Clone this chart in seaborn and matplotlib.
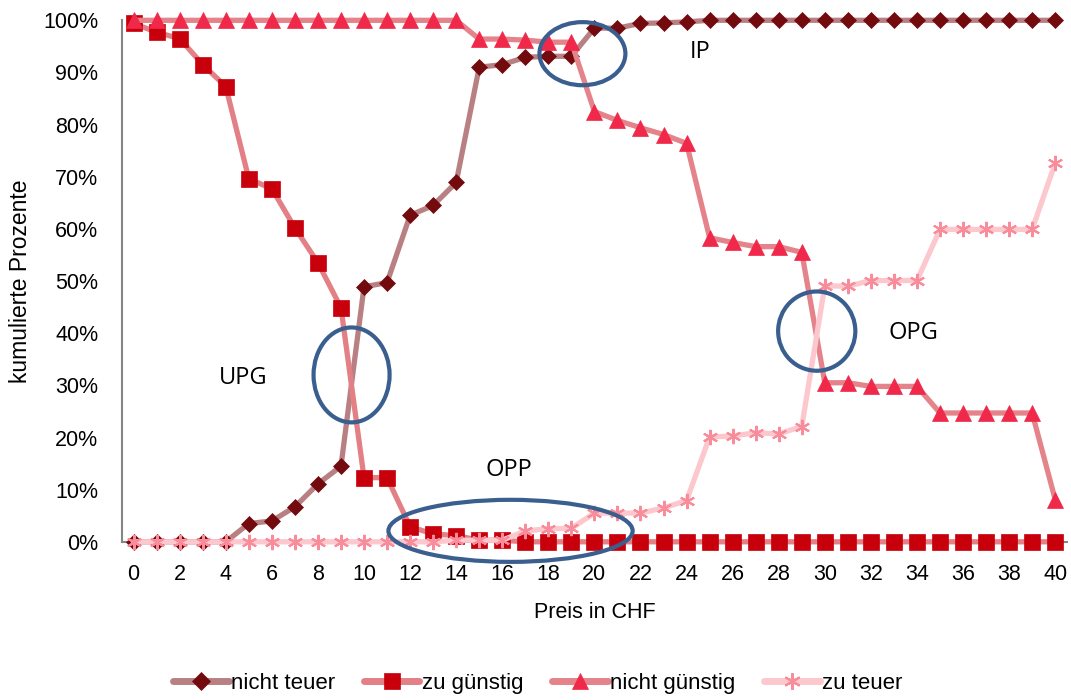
import numpy as np
import pandas as pd
import seaborn as sns
import matplotlib.pyplot as plt
from matplotlib.lines import Line2D
from matplotlib.patches import Ellipse
from matplotlib.ticker import PercentFormatter

preis = list(range(0, 41))

nicht_teuer = [0, 0, 0, 0, 0, 3.5, 4.0, 6.7, 11.1, 14.5, 48.9, 49.7, 62.6, 64.5, 68.9,
               91.0, 91.5, 92.9, 93.1, 93.1, 98.5, 98.5, 99.4, 99.5, 99.7] + [100] * 16
zu_guenstig = [99.4, 97.7, 96.5, 91.5, 87.3, 69.6, 67.7, 60.2, 53.5, 44.9, 12.3, 12.3,
               2.9, 1.5, 1.2, 0.3, 0.3] + [0] * 24
nicht_guenstig = [100] * 15 + [96.4, 96.4, 96.2, 95.8, 95.8, 82.5, 80.8, 79.4, 78.1, 76.4,
                               58.3, 57.4, 56.6, 56.6, 55.5, 30.5, 30.5, 29.8, 29.8, 29.8,
                               24.7, 24.7, 24.7, 24.7, 24.7, 8.1]
zu_teuer = [0] * 14 + [0.3, 0.3, 0.3, 2.1, 2.5, 2.6, 5.5, 5.5, 5.5, 6.5, 7.9,
                       20.1, 20.3, 20.9, 20.7, 22.1, 49.1, 49.0, 50.1, 50.1, 50.1,
                       59.9, 59.9, 59.9, 59.9, 59.9, 72.6]

series_names = ['nicht teuer', 'zu günstig', 'nicht günstig', 'zu teuer']
series_vals = [nicht_teuer, zu_guenstig, nicht_guenstig, zu_teuer]
line_cols = ['#b98084', '#e38086', '#e5838b', '#fcc8ce']
mark_cols = ['#720a0e', '#c8000b', '#f0284a', '#f98c9a']
markers = ['D', 's', '^', (6, 2, 0)]
msizes = [8, 11, 11, 11]

# ellipses: (x, y, width, height) in data units, labels
ell = [(9.46, 32.0, 3.3, 18.2), (16.36, 2.1, 10.6, 11.9), (19.48, 93.6, 3.73, 12.1), (29.65, 40.4, 3.35, 15.2)]
labels = [('UPG', 4.77, 31.5), ('OPP', 16.27, 13.8), ('IP', 24.6, 94.0), ('OPG', 33.84, 40.1)]

df = pd.DataFrame({'preis': preis * 4,
                   'wert': sum(series_vals, []),
                   'serie': sum([[n] * len(preis) for n in series_names], [])})

sns.set_style('white')
plt.rcParams['font.family'] = ['Liberation Sans', 'DejaVu Sans']
plt.rcParams['text.color'] = 'black'
plt.rcParams['xtick.color'] = 'black'
plt.rcParams['ytick.color'] = 'black'
plt.rcParams['axes.labelcolor'] = 'black'

fig, ax = plt.subplots(figsize=(10.71, 7), dpi=100)
fig.subplots_adjust(left=0.114, right=0.996, top=0.971, bottom=0.226)

handles = []
for i, name in enumerate(series_names):
    sub = df[df['serie'] == name]
    mk = markers[i]
    sns.lineplot(ax=ax, data=sub, x='preis', y='wert', color=line_cols[i], linewidth=3.8,
                 marker=mk, markersize=msizes[i], markerfacecolor=mark_cols[i],
                 markeredgecolor=mark_cols[i], markeredgewidth=1.5 if i == 3 else 0.5,
                 zorder=3 + i, clip_on=False)
    handles.append(Line2D([0], [0], color=line_cols[i], linewidth=5, marker=mk,
                          markersize=msizes[i] + 1, markerfacecolor=mark_cols[i],
                          markeredgecolor=mark_cols[i], markeredgewidth=1.5 if i == 3 else 0.5,
                          label=name))

for (x, y, w, h) in ell:
    ax.add_patch(Ellipse((x, y), w, h, fill=False, edgecolor='#3a5f8f', linewidth=3,
                         zorder=10, clip_on=False))
for (t, x, y) in labels:
    ax.text(x, y, t, ha='center', va='center', fontsize=17, family=['Open Sans', 'DejaVu Sans'], zorder=11)

ax.set_xlim(-0.5, 40.5)
ax.set_ylim(0, 100)
ax.set_xticks(range(0, 41, 2))
ax.set_yticks(range(0, 101, 10))
ax.yaxis.set_major_formatter(PercentFormatter(decimals=0))
ax.tick_params(axis='both', labelsize=15.5, length=0)
ax.tick_params(axis='x', pad=16)
ax.tick_params(axis='y', pad=17)
ax.set_xlabel('Preis in CHF', fontsize=15.5, labelpad=12)
ax.set_ylabel('kumulierte Prozente', fontsize=16.5, labelpad=8)
sns.despine(ax=ax)
for s in ['left', 'bottom']:
    ax.spines[s].set_color('#868686')
    ax.spines[s].set_linewidth(1.5)

fig.legend(handles=handles, loc='center', bbox_to_anchor=(0.502, 0.024), ncol=4,
           frameon=False, fontsize=16, handlelength=2.5, handletextpad=0.1, columnspacing=1.3)

fig.savefig('out.png', dpi=100)
